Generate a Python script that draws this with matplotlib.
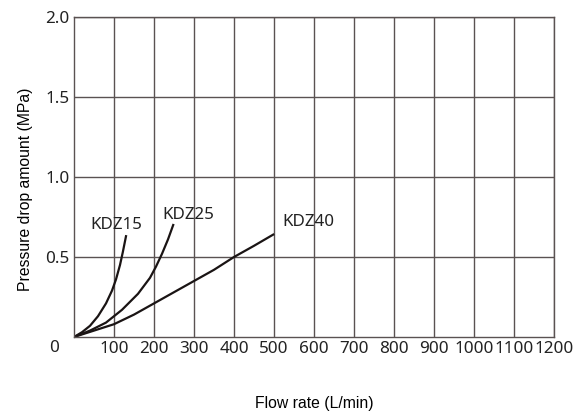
import matplotlib
matplotlib.use('Agg')
import matplotlib.pyplot as plt

# curves (flow L/min, pressure drop MPa)
kdz15_x = [0, 20, 40, 60, 80, 95, 105, 115, 122, 130]
kdz15_y = [0, 0.03, 0.07, 0.13, 0.21, 0.29, 0.36, 0.45, 0.53, 0.63]
kdz25_x = [0, 40, 80, 120, 160, 190, 205, 220, 235, 248]
kdz25_y = [0, 0.04, 0.09, 0.17, 0.27, 0.37, 0.44, 0.52, 0.61, 0.70]
kdz40_x = [0, 50, 100, 150, 200, 250, 300, 350, 400, 450, 498]
kdz40_y = [0, 0.04, 0.08, 0.14, 0.21, 0.28, 0.35, 0.42, 0.50, 0.57, 0.64]

names = ['KDZ15', 'KDZ25', 'KDZ40']
label_pos = [(106, 0.70), (287, 0.76), (586, 0.72)]

xticks = list(range(100, 1300, 100))
yticks = [0.5, 1.0, 1.5, 2.0]

grid_c = '#5a5252'
line_c = '#1a1414'
txt_c = '#222222'
tick_font = 'Noto Sans'

fig = plt.figure(figsize=(5.85, 4.12), dpi=100)
ax = fig.add_axes([74/585, 75/412, 480/585, 320/412])

for xs, ys in [(kdz15_x, kdz15_y), (kdz25_x, kdz25_y), (kdz40_x, kdz40_y)]:
    ax.plot(xs, ys, color=line_c, lw=1.6, solid_joinstyle='round')

for n, (lx, ly) in zip(names, label_pos):
    ax.text(lx, ly, n, ha='center', va='center', fontsize=12.2,
            family=tick_font, color=txt_c)

ax.set_xlim(0, 1200)
ax.set_ylim(0, 2.0)
ax.set_xticks(xticks)
ax.set_xticklabels([str(v) for v in xticks], family=tick_font, fontsize=12.3)
ax.set_yticks(yticks)
ax.set_yticklabels(['0.5', '1.0', '1.5', '2.0'], family=tick_font, fontsize=12.3)
ax.tick_params(length=0, pad=3, colors=txt_c)
ax.grid(True, color=grid_c, lw=1)
for s in ax.spines.values():
    s.set_color(grid_c)
    s.set_linewidth(1)
ax.text(-50, -0.07, '0', ha='center', va='center', fontsize=12.3,
        family=tick_font, color=txt_c)

ax.set_xlabel('Flow rate (L/min)', family='Liberation Sans', fontsize=11.3, va='top')
ax.xaxis.set_label_coords(0.5, -0.185)
ax.set_ylabel('Pressure drop amount (MPa)', family='Liberation Sans', fontsize=11.3, va='center')
ax.yaxis.set_label_coords(-0.1, 0.46)

fig.savefig('out.png', dpi=100)
